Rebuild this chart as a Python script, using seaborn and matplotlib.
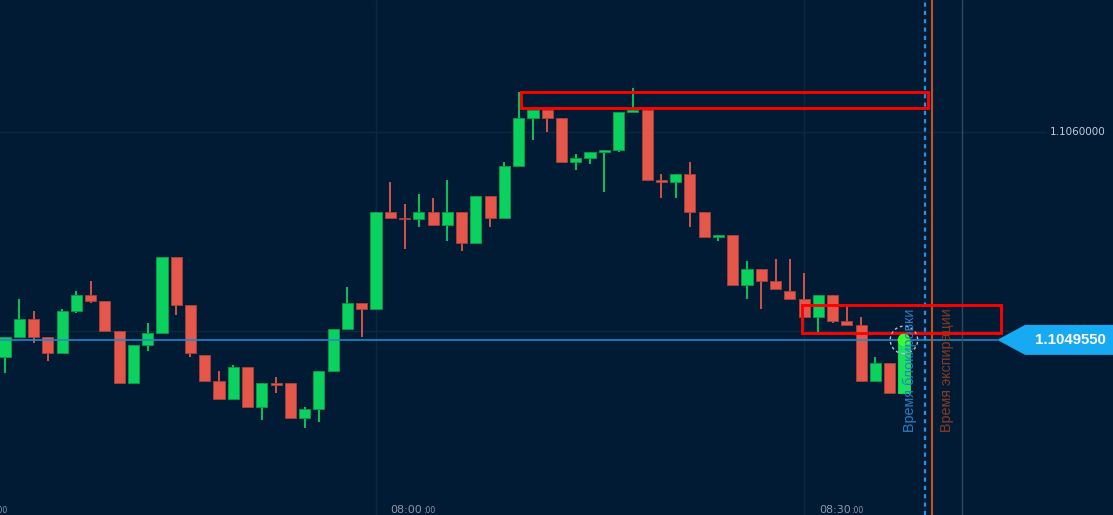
import pandas as pd
import matplotlib
matplotlib.use("Agg")
import matplotlib.pyplot as plt
import matplotlib.transforms as mtransforms
from matplotlib.patches import Polygon, Rectangle
import seaborn as sns

# --- 1 minute candles, 07:34 .. 08:37 ---
first_candle = "07:34"
opens = [
    1.10487, 1.10497, 1.10506, 1.10497, 1.10489, 1.10510, 1.10518, 1.10515, 1.10500, 1.10474,
    1.10493, 1.10499, 1.10537, 1.10513, 1.10488, 1.10475, 1.10466, 1.10482, 1.10462, 1.10474,
    1.10474, 1.10456, 1.10461, 1.10480, 1.10501, 1.10514, 1.10511, 1.10560, 1.10557, 1.10556,
    1.10560, 1.10553, 1.10560, 1.10544, 1.10568, 1.10557, 1.10583, 1.10607, 1.10611, 1.10607,
    1.10585, 1.10587, 1.10590, 1.10591, 1.10610, 1.10611, 1.10576, 1.10575, 1.10579, 1.10560,
    1.10547, 1.10548, 1.10523, 1.10531, 1.10525, 1.10520, 1.10516, 1.10507, 1.10518, 1.10505,
    1.10503, 1.10475, 1.10484, 1.10469]
highs = [
    1.10497, 1.10516, 1.10510, 1.10497, 1.10511, 1.10520, 1.10525, 1.10515, 1.10500, 1.10493,
    1.10504, 1.10537, 1.10537, 1.10513, 1.10488, 1.10480, 1.10483, 1.10482, 1.10474, 1.10477,
    1.10474, 1.10462, 1.10480, 1.10501, 1.10522, 1.10514, 1.10560, 1.10575, 1.10564, 1.10569,
    1.10567, 1.10576, 1.10560, 1.10568, 1.10568, 1.10585, 1.10620, 1.10611, 1.10611, 1.10607,
    1.10589, 1.10590, 1.10591, 1.10610, 1.10622, 1.10611, 1.10579, 1.10579, 1.10585, 1.10560,
    1.10548, 1.10548, 1.10535, 1.10531, 1.10536, 1.10536, 1.10529, 1.10518, 1.10518, 1.10512,
    1.10507, 1.10487, 1.10484, 1.104955]
lows = [
    1.10479, 1.10497, 1.10494, 1.10485, 1.10489, 1.10509, 1.10514, 1.10500, 1.10474, 1.10474,
    1.10490, 1.10499, 1.10508, 1.10487, 1.10475, 1.10466, 1.10466, 1.10462, 1.10455, 1.10469,
    1.10456, 1.10451, 1.10454, 1.10480, 1.10501, 1.10497, 1.10511, 1.10557, 1.10541, 1.10552,
    1.10553, 1.10545, 1.10540, 1.10544, 1.10552, 1.10557, 1.10583, 1.10596, 1.10600, 1.10585,
    1.10581, 1.10584, 1.10570, 1.10590, 1.10610, 1.10576, 1.10567, 1.10567, 1.10552, 1.10547,
    1.10545, 1.10523, 1.10516, 1.10511, 1.10521, 1.10516, 1.10507, 1.10498, 1.10504, 1.10503,
    1.10475, 1.10475, 1.10469, 1.10469]
closes = [
    1.10497, 1.10506, 1.10497, 1.10489, 1.10510, 1.10518, 1.10515, 1.10500, 1.10474, 1.10493,
    1.10499, 1.10537, 1.10513, 1.10489, 1.10475, 1.10466, 1.10482, 1.10462, 1.10474, 1.10473,
    1.10456, 1.10461, 1.10480, 1.10501, 1.10514, 1.10511, 1.10560, 1.10557, 1.10556, 1.10560,
    1.10553, 1.10560, 1.10544, 1.10568, 1.10557, 1.10583, 1.10607, 1.10611, 1.10607, 1.10585,
    1.10587, 1.10590, 1.10591, 1.10610, 1.10611, 1.10576, 1.10575, 1.10579, 1.10560, 1.10547,
    1.10548, 1.10523, 1.10531, 1.10525, 1.10521, 1.10516, 1.10507, 1.10518, 1.10505, 1.10503,
    1.10475, 1.10484, 1.10469, 1.104955]

# --- chart furniture ---
grid_times = ["07:30", "08:00", "08:30"]
grid_prices = [1.1050, 1.1060]
price_labels = [1.1060]  # the 1.1050 label sits under the live price tag
block_time = "08:38:30"
expiry_time = "08:39:00"
edge_time = "08:41:06"
block_label = "Время блокировки"
expiry_label = "Время экспирации"
# support / resistance boxes drawn by hand on the chart
zone_starts = ["08:10:08", "08:29:51"]
zone_ends = ["08:38:39", "08:43:49"]
zone_lows = [1.10612, 1.10499]
zone_highs = [1.10620, 1.10513]

BG = "#011b35"
GRID = "#0c2844"
GREEN, GREEN_EDGE = "#0bd15f", "#0a9c49"
RED, RED_EDGE = "#e5574b", "#a8423a"

day = "2024-05-10 "
ref = pd.Timestamp(day + "08:00")


def minutes(hhmm):
    return (pd.Timestamp(day + hhmm) - ref) / pd.Timedelta(minutes=1)


sns.set_theme(style="dark", rc={"axes.facecolor": BG, "figure.facecolor": BG})
plt.rcParams["font.family"] = ["DejaVu Sans"]
plt.rcParams["lines.scale_dashes"] = False

times = pd.date_range(day + first_candle, periods=len(opens), freq="min")
df = pd.DataFrame({"time": times, "open": opens, "high": highs, "low": lows, "close": closes})
df["x"] = (df["time"] - ref) / pd.Timedelta(minutes=1)
df["up"] = df["close"] >= df["open"]
df["color"] = df["up"].map({True: GREEN, False: RED})
df["edge"] = df["up"].map({True: GREEN_EDGE, False: RED_EDGE})
df.loc[df.index[-1], ["color", "edge"]] = ["#19e35c", "#19e35c"]

fig = plt.figure(figsize=(11.13, 5.15), dpi=100)
ax = fig.add_axes([0, 0, 1, 1])
ax.set_facecolor(BG)
ax.set_xlim(-26.35, 51.65)
ax.set_ylim(1.104075, 1.106663)
ax.set_xticks([])
ax.set_yticks([])
for s in ax.spines.values():
    s.set_visible(False)
ax.grid(False)

xblend = mtransforms.blended_transform_factory(ax.transData, ax.transAxes)
yblend = mtransforms.blended_transform_factory(ax.transAxes, ax.transData)

# grid
for gt in grid_times:
    ax.axvline(minutes(gt), color=GRID, lw=1, zorder=1)
for gp in grid_prices:
    ax.axhline(gp, xmax=0.94, color=GRID, lw=1, zorder=1)
for gp in price_labels:
    ax.text(0.993, gp, f"{gp:.7f}", transform=yblend, ha="right", va="center",
            color="#c3cbd4", fontsize=7.5, zorder=2)

# candles
ax.vlines(df["x"], df["low"], df["high"], colors=df["color"], lw=1.3, zorder=3)
ax.bar(df["x"], (df["close"] - df["open"]).abs(), bottom=df[["open", "close"]].min(axis=1),
       width=0.78, color=df["color"], edgecolor=df["edge"], linewidth=0.6, zorder=4)

# current price line
last_x = df["x"].iloc[-1]
last_close = df["close"].iloc[-1]
ax.axhline(last_close, xmax=0.896, color="#1f88cc", lw=1.2, zorder=5)

# hand drawn zones
for z0, z1, lo, hi in zip(zone_starts, zone_ends, zone_lows, zone_highs):
    ax.add_patch(Rectangle((minutes(z0), lo), minutes(z1) - minutes(z0), hi - lo,
                           fill=False, edgecolor="#ff0000", lw=2.1, zorder=6))

# time markers
ax.axvline(minutes(block_time), color="#2f8fe0", lw=1.6, ls=(0, (3, 3)), zorder=5)
ax.axvline(minutes(expiry_time), color="#c4521f", lw=1.5, zorder=5)
ax.axvline(minutes(edge_time), color="#33475d", lw=1, zorder=5)
ax.annotate(block_label, xy=(minutes(block_time), 0.161), xycoords=xblend,
            xytext=(-11, 0), textcoords="offset points", rotation=90, ha="center", va="bottom",
            color="#2f7cbf", fontsize=10.3, family=["Liberation Sans", "DejaVu Sans"], zorder=8)
ax.annotate(expiry_label, xy=(minutes(expiry_time), 0.161), xycoords=xblend,
            xytext=(10.4, 0), textcoords="offset points", rotation=90, ha="center", va="bottom",
            color="#8a3a22", fontsize=10.3, family=["Liberation Sans", "DejaVu Sans"], zorder=8)

# live price marker
sns.scatterplot(x=[last_x], y=[last_close], s=80, color="#3cff30", edgecolor="none",
                ax=ax, zorder=7, legend=False)
ax.scatter([last_x], [last_close], s=390, facecolors="none", edgecolors="#b9c2cc",
           linewidths=1, linestyle=(0, (2, 2)), zorder=7)

# price tag on the right
fig.canvas.draw()
y_disp = ax.transData.transform((0, last_close))[1]
x_tip = ax.transAxes.transform((0.896, 0))[0]
x_sh = ax.transAxes.transform((0.921, 0))[0]
x_end = ax.transAxes.transform((1.0, 0))[0]
tag = Polygon([(x_tip, y_disp), (x_sh, y_disp + 15), (x_end, y_disp + 15),
               (x_end, y_disp - 15), (x_sh, y_disp - 15)], closed=True,
              facecolor="#17a9f2", edgecolor="none", transform=mtransforms.IdentityTransform(),
              zorder=9, clip_on=False)
ax.add_patch(tag)
ax.text(0.9615, last_close, f"{last_close:.7f}", transform=yblend, ha="center", va="center",
        color="white", fontsize=10.8, fontweight="bold",
        family=["Liberation Sans Narrow", "Liberation Sans", "DejaVu Sans"], zorder=10)

# time axis labels
for gt in grid_times:
    main = ax.annotate(gt, xy=(minutes(gt), 0), xycoords=xblend, xytext=(10.6, 1.2),
                       textcoords="offset points", ha="left", va="baseline",
                       color="#8c99a8", fontsize=8)
    ax.annotate(":00", xy=(1, 0), xycoords=main, xytext=(0.3, 0), textcoords="offset points",
                ha="left", va="bottom", color="#8c99a8", fontsize=5.5)

fig.savefig("out.png", dpi=100, facecolor=BG)
